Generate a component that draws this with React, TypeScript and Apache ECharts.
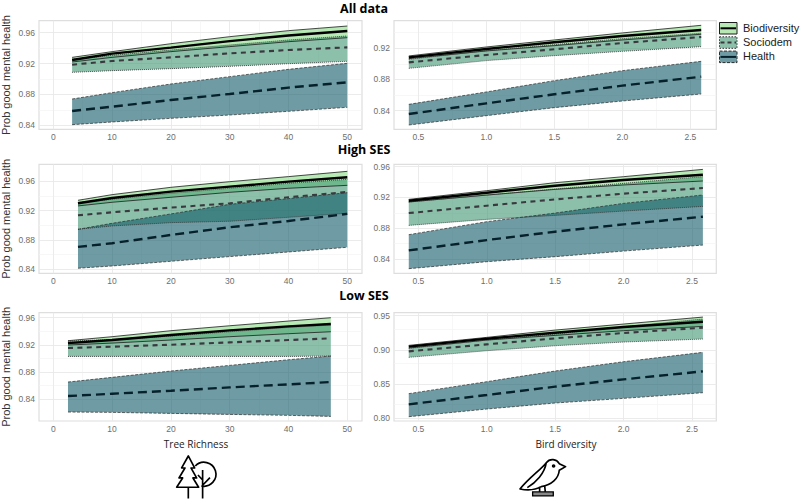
import React, { useEffect, useRef } from "react";
import * as echarts from "echarts";

// ---- x positions ----
const xsA1 = [3.2, 10, 20, 30, 40, 50];
const xsH1 = [4.2, 10, 20, 30, 40, 50];
const xsL1 = [2.5, 10, 20, 30, 40, 47.2];
const xsBird = [0.43, 1.0, 1.5, 2.0, 2.58];

// ---- All data, tree richness ----
const a1BioUp = [0.928, 0.9354, 0.9457, 0.9548, 0.9626, 0.9686];
const a1BioMean = [0.9246, 0.9328, 0.9406, 0.949, 0.9563, 0.9622];
const a1BioLo = [0.922, 0.928, 0.9354, 0.9419, 0.9483, 0.9535];
const a1SocUp = [0.9255, 0.9306, 0.9375, 0.944, 0.9505, 0.9557];
const a1SocMean = [0.9185, 0.9233, 0.928, 0.9332, 0.9375, 0.941];
const a1SocLo = [0.9086, 0.9108, 0.9134, 0.9164, 0.9198, 0.9229];
const a1HeaUp = [0.874, 0.8823, 0.8935, 0.903, 0.9125, 0.9203];
const a1HeaMean = [0.8585, 0.8641, 0.8728, 0.8806, 0.8888, 0.8957];
const a1HeaLo = [0.8408, 0.8443, 0.849, 0.8533, 0.8581, 0.8633];

// ---- All data, bird diversity ----
const a2BioUp = [0.9102, 0.9217, 0.9307, 0.9397, 0.9495];
const a2BioMean = [0.9084, 0.9191, 0.9277, 0.9358, 0.9435];
const a2BioLo = [0.9067, 0.9166, 0.9234, 0.9307, 0.938];
const a2SocUp = [0.9059, 0.917, 0.9247, 0.9324, 0.9393];
const a2SocMean = [0.902, 0.9114, 0.9187, 0.9268, 0.9345];
const a2SocLo = [0.8943, 0.9042, 0.9106, 0.9161, 0.9221];
const a2HeaUp = [0.8481, 0.864, 0.8785, 0.8913, 0.9033];
const a2HeaMean = [0.8357, 0.8494, 0.861, 0.8721, 0.8836];
const a2HeaLo = [0.8216, 0.8336, 0.8439, 0.8524, 0.8614];

// ---- High SES, tree richness ----
const h1BioUp = [0.9341, 0.9418, 0.9518, 0.9595, 0.9664, 0.9736];
const h1BioMean = [0.93, 0.9373, 0.9459, 0.9527, 0.9595, 0.9655];
const h1BioLo = [0.9264, 0.9314, 0.9382, 0.945, 0.9505, 0.9545];
const h1SocUp = [0.9309, 0.9355, 0.9436, 0.9505, 0.9573, 0.9627];
const h1SocMean = [0.9136, 0.9177, 0.9241, 0.93, 0.9382, 0.9455];
const h1SocLo = [0.8945, 0.8991, 0.9036, 0.9055, 0.9109, 0.9164];
const h1HeaUp = [0.8945, 0.9027, 0.9155, 0.9286, 0.9364, 0.9445];
const h1HeaMean = [0.8705, 0.8755, 0.8868, 0.8973, 0.9059, 0.9155];
const h1HeaLo = [0.8414, 0.8445, 0.8509, 0.8573, 0.8636, 0.87];

// ---- High SES, bird diversity ----
const h2BioUp = [0.9175, 0.9288, 0.9392, 0.947, 0.9565];
const h2BioMean = [0.9158, 0.9262, 0.9353, 0.9427, 0.9496];
const h2BioLo = [0.9141, 0.9231, 0.9305, 0.9362, 0.9414];
const h2SocUp = [0.9141, 0.9232, 0.931, 0.9383, 0.947];
const h2SocMean = [0.8997, 0.9093, 0.9175, 0.9249, 0.9323];
const h2SocLo = [0.8837, 0.8915, 0.8967, 0.9023, 0.9084];
const h2HeaUp = [0.8716, 0.8885, 0.8997, 0.9123, 0.9232];
const h2HeaMean = [0.8512, 0.8646, 0.8755, 0.885, 0.895];
const h2HeaLo = [0.8274, 0.8365, 0.843, 0.8503, 0.8581];

// ---- Low SES, tree richness ----
const l1BioUp = [0.9262, 0.9321, 0.9409, 0.9482, 0.9551, 0.96];
const l1BioMean = [0.9227, 0.9272, 0.9345, 0.9414, 0.9473, 0.9507];
const l1BioLo = [0.9198, 0.9227, 0.9272, 0.9321, 0.9365, 0.9394];
const l1SocUp = [0.9257, 0.9276, 0.933, 0.9394, 0.9458, 0.9492];
const l1SocMean = [0.9154, 0.9174, 0.9203, 0.9237, 0.9272, 0.9296];
const l1SocLo = [0.9031, 0.9031, 0.9031, 0.9031, 0.9031, 0.9036];
const l1HeaUp = [0.8654, 0.8723, 0.8816, 0.8899, 0.8982, 0.9036];
const l1HeaMean = [0.8448, 0.8482, 0.8526, 0.8575, 0.862, 0.8654];
const l1HeaLo = [0.8213, 0.8208, 0.8193, 0.8178, 0.8164, 0.8149];

// ---- Low SES, bird diversity ----
const l2BioUp = [0.9066, 0.9183, 0.929, 0.9378, 0.948];
const l2BioMean = [0.9047, 0.9164, 0.9251, 0.9334, 0.9412];
const l2BioLo = [0.9027, 0.9144, 0.9212, 0.9281, 0.9344];
const l2SocUp = [0.9022, 0.9144, 0.9232, 0.9339, 0.9451];
const l2SocMean = [0.8979, 0.9081, 0.9169, 0.9247, 0.9325];
const l2SocLo = [0.8891, 0.8988, 0.9061, 0.9115, 0.9159];
const l2HeaUp = [0.836, 0.8535, 0.8691, 0.8827, 0.8964];
const l2HeaMean = [0.8204, 0.834, 0.8462, 0.8569, 0.8686];
const l2HeaLo = [0.8023, 0.8135, 0.8223, 0.8291, 0.8374];

// ---- ticks ----
const treeTicks = [0, 10, 20, 30, 40, 50];
const treeMinor = [5, 15, 25, 35, 45];
const birdTicks = [0.5, 1.0, 1.5, 2.0, 2.5];
const birdMinor = [0.75, 1.25, 1.75, 2.25];
const probTicks = [0.84, 0.88, 0.92, 0.96];
const probMinor = [0.86, 0.9, 0.94];
const prob2Ticks = [0.8, 0.85, 0.9, 0.95];
const prob2Minor = [0.825, 0.875, 0.925];
const seriesNames = ["Biodiversity", "Sociodem", "Health"];
const panelTitles = ["All data", "High SES", "Low SES"];

const FILLS = ["rgba(145,222,140,0.65)", "rgba(63,150,115,0.6)", "rgba(15,90,104,0.6)"];
const LEGEND_FILLS = ["#b8e8b3", "#8cc0ab", "#6f9ca4"];

const panels = [
  { x: xsA1, xr: [-2.43, 52.5], yr: [0.8348, 0.9755], t: treeTicks, tm: treeMinor, y: probTicks, ym: probMinor, dec: 0, col: 0, row: 0,
    b: [a1BioUp, a1BioMean, a1BioLo], s: [a1SocUp, a1SocMean, a1SocLo], h: [a1HeaUp, a1HeaMean, a1HeaLo] },
  { x: xsBird, xr: [0.321, 2.691], yr: [0.8161, 0.9554], t: birdTicks, tm: birdMinor, y: probTicks, ym: probMinor, dec: 1, col: 1, row: 0,
    b: [a2BioUp, a2BioMean, a2BioLo], s: [a2SocUp, a2SocMean, a2SocLo], h: [a2HeaUp, a2HeaMean, a2HeaLo] },
  { x: xsH1, xr: [-2.43, 52.5], yr: [0.8345, 0.9832], t: treeTicks, tm: treeMinor, y: probTicks, ym: probMinor, dec: 0, col: 0, row: 1,
    b: [h1BioUp, h1BioMean, h1BioLo], s: [h1SocUp, h1SocMean, h1SocLo], h: [h1HeaUp, h1HeaMean, h1HeaLo] },
  { x: xsBird, xr: [0.322, 2.678], yr: [0.8214, 0.9631], t: birdTicks, tm: birdMinor, y: probTicks, ym: probMinor, dec: 1, col: 1, row: 1,
    b: [h2BioUp, h2BioMean, h2BioLo], s: [h2SocUp, h2SocMean, h2SocLo], h: [h2HeaUp, h2HeaMean, h2HeaLo] },
  { x: xsL1, xr: [-2.43, 52.5], yr: [0.8081, 0.9674], t: treeTicks, tm: treeMinor, y: probTicks, ym: probMinor, dec: 0, col: 0, row: 2,
    b: [l1BioUp, l1BioMean, l1BioLo], s: [l1SocUp, l1SocMean, l1SocLo], h: [l1HeaUp, l1HeaMean, l1HeaLo] },
  { x: xsBird, xr: [0.322, 2.678], yr: [0.796, 0.9544], t: birdTicks, tm: birdMinor, y: prob2Ticks, ym: prob2Minor, dec: 1, col: 1, row: 2,
    b: [l2BioUp, l2BioMean, l2BioLo], s: [l2SocUp, l2SocMean, l2SocLo], h: [l2HeaUp, l2HeaMean, l2HeaLo] },
];

const ROWS = [ { top: 20.7, h: 108.6 }, { top: 164.3, h: 109 }, { top: 312.7, h: 108.3 } ];
const COLS = [ { left: 39, w: 323 }, { left: 394, w: 322.3 } ];
const EDGE = [
  { color: "#1c1c1c", width: 0.8, type: "solid" as const },
  { color: "#2e2e2e", width: 0.8, type: [1, 1] as any },
  { color: "#2a2a2a", width: 0.7, type: [3, 1.5] as any },
];
const MEAN = [
  { color: "#000000", width: 2.4, type: "solid" as const },
  { color: "#3a3a3e", width: 2.1, type: [5, 4.4] as any },
  { color: "#06212b", width: 2.4, type: [9, 5] as any },
];

const LINE_FAINT = { color: "#f3f3f3", width: 0.7, type: "solid" as const };
const LINE_MAJOR = { color: "#e9e9e9", width: 0.9, type: "solid" as const };

const TREE_D =
  "M85 78 L104 114 L93 114 L110 144 L99 144 L116 172 L50 172 L68 144 L57 144 L75 114 L65 114 Z " +
  "M85 172 L85 206 M106 108 A36 36 0 1 1 124 168 M128 120 L128 206 M128 166 L150 143 M128 150 L114 135";
const BIRD_D =
  "M197 80 L178 71 C170 57 150 54 139 68 C124 88 88 112 60 147 C90 153 108 149 124 140 C155 135 176 116 178 91 Z " +
  "M139 68 C134 100 108 128 82 143 M119 140 L119 156 M134 136 L136 156 " +
  "M158 78 A3 3 0 1 0 164 78 A3 3 0 1 0 158 78 Z";
const PERCH_D = "M98 156 L160 156 L160 168 L98 168 Z";

export default function App() {
  const ref = useRef<HTMLDivElement>(null);
  useEffect(() => {
    document.body.style.margin = "0";
    echarts.graphic.registerShape("treeIcon", echarts.graphic.extendPath(TREE_D, {}) as any);
    echarts.graphic.registerShape("birdIcon", echarts.graphic.extendPath(BIRD_D, {}) as any);
    echarts.graphic.registerShape("perchIcon", echarts.graphic.extendPath(PERCH_D, {}) as any);
    const chart = echarts.init(ref.current!, undefined, { renderer: "svg" });

    const grid: any[] = [], xAxis: any[] = [], yAxis: any[] = [], series: any[] = [];
    panels.forEach((p, i) => {
      const r = ROWS[p.row], c = COLS[p.col];
      grid.push({ left: c.left, top: r.top, width: c.w, height: r.h, show: true, borderColor: "#dedede", borderWidth: 1.2, backgroundColor: "#fff", z: 0, outerBoundsMode: "none" });
      xAxis.push({
        type: "value", gridIndex: i, min: p.xr[0], max: p.xr[1],
        axisLine: { show: false }, axisTick: { show: false }, splitLine: { show: false },
        axisLabel: { customValues: p.t, color: "#6e6e6e", fontSize: 8.5, fontFamily: "Liberation Sans", margin: 3,
          formatter: (v: number) => v.toFixed(p.dec) },
      });
      yAxis.push({
        type: "value", gridIndex: i, min: p.yr[0], max: p.yr[1],
        name: p.col === 0 ? "Prob good mental health" : "", nameLocation: "middle", nameGap: 27.5,
        nameTextStyle: { color: "#333", fontSize: 11, fontFamily: "Liberation Sans" },
        axisLine: { show: false }, axisTick: { show: false }, splitLine: { show: false },
        axisLabel: { customValues: p.y, color: "#6e6e6e", fontSize: 8.5, fontFamily: "Liberation Sans", margin: 4,
          formatter: (v: number) => v.toFixed(2) },
      });
      series.push({
        type: "line", xAxisIndex: i, yAxisIndex: i, data: [], z: 1, silent: true,
        markLine: {
          silent: true, symbol: "none", label: { show: false }, animation: false, z: 1,
          data: [
            ...p.tm.map((v) => ({ xAxis: v, lineStyle: LINE_FAINT })),
            ...p.ym.map((v) => ({ yAxis: v, lineStyle: LINE_FAINT })),
            ...p.t.map((v) => ({ xAxis: v, lineStyle: LINE_MAJOR })),
            ...p.y.map((v) => ({ yAxis: v, lineStyle: LINE_MAJOR })),
          ],
        },
      });
      [p.b, p.s, p.h].forEach((band, k) => {
        const [up, , lo] = band;
        series.push({
          type: "custom", name: seriesNames[k], xAxisIndex: i, yAxisIndex: i, z: 2, silent: true, clip: false,
          data: p.x.map((x, j) => [x, lo[j], up[j]]),
          encode: { x: 0, y: [1, 2] },
          renderItem: (params: any, api: any) => {
            if (params.dataIndex !== 0) return { type: "group", children: [] };
            const pts = [
              ...p.x.map((x, j) => api.coord([x, up[j]])),
              ...p.x.map((x, j) => api.coord([x, lo[j]])).reverse(),
            ];
            return { type: "polygon", shape: { points: pts }, style: { fill: FILLS[k], stroke: "none" } };
          },
        });
        [up, lo].forEach((edge) => {
          series.push({
            type: "line", name: seriesNames[k], xAxisIndex: i, yAxisIndex: i, z: 2, showSymbol: false, silent: true,
            data: p.x.map((x, j) => [x, edge[j]]), lineStyle: EDGE[k],
          });
        });
      });
      [p.b, p.s, p.h].forEach((band, k) => {
        series.push({
          type: "line", name: seriesNames[k], xAxisIndex: i, yAxisIndex: i, z: 3, showSymbol: false, silent: true,
          data: p.x.map((x, j) => [x, band[1][j]]), lineStyle: MEAN[k],
        });
      });
    });

    const titleFont = { fontFamily: "Open Sans", fontWeight: "bold" as const, fontSize: 12.5, fill: "#000" };
    const graphic: any[] = [
      ...panelTitles.map((t, i) => ({
        type: "text", x: 364, y: [8, 149, 295][i], style: { ...titleFont, text: t, textAlign: "center", textVerticalAlign: "middle" },
      })),
      { type: "text", x: 196, y: 444, style: { text: "Tree Richness", fontFamily: "Open Sans", fontSize: 10, fill: "#222", textAlign: "center", textVerticalAlign: "middle" } },
      { type: "text", x: 566, y: 444, style: { text: "Bird diversity", fontFamily: "Open Sans", fontSize: 10, fill: "#222", textAlign: "center", textVerticalAlign: "middle" } },
      { type: "treeIcon", x: 160, y: 430, scaleX: 1 / 3, scaleY: 1 / 3, style: { fill: "none", stroke: "#000", lineWidth: 5, lineJoin: "round" } },
      { type: "birdIcon", x: 500, y: 440, scaleX: 1 / 3, scaleY: 1 / 3, style: { fill: "none", stroke: "#000", lineWidth: 5, lineJoin: "round" } },
      { type: "perchIcon", x: 500, y: 440, scaleX: 1 / 3, scaleY: 1 / 3, style: { fill: "#888", stroke: "#000", lineWidth: 4 } },
    ];
    seriesNames.forEach((n, k) => {
      const top = 22.5 + k * 14.3;
      graphic.push({ type: "rect", shape: { x: 719.5, y: top, width: 17.5, height: 11.5 }, style: { fill: LEGEND_FILLS[k], stroke: EDGE[k].color, lineWidth: 1, lineDash: k === 0 ? null : k === 1 ? [1.5, 1.5] : [3, 1.5] } });
      graphic.push({ type: "line", shape: { x1: 720.5, y1: top + 5.8, x2: 736, y2: top + 5.8 }, style: { stroke: MEAN[k].color, lineWidth: 2, lineDash: k === 1 ? [4, 3] : null } });
      graphic.push({ type: "text", x: 743, y: top + 5.3, style: { text: n, fontFamily: "Liberation Sans", fontSize: 11, fill: "#1a1a1a", textVerticalAlign: "middle" } });
    });

    chart.setOption({ animation: false, backgroundColor: "#fff", grid, xAxis, yAxis, series, graphic });
    return () => chart.dispose();
  }, []);
  return <div ref={ref} style={{ position: "absolute", left: 0, top: 0, width: 800, height: 499 }} />;
}
